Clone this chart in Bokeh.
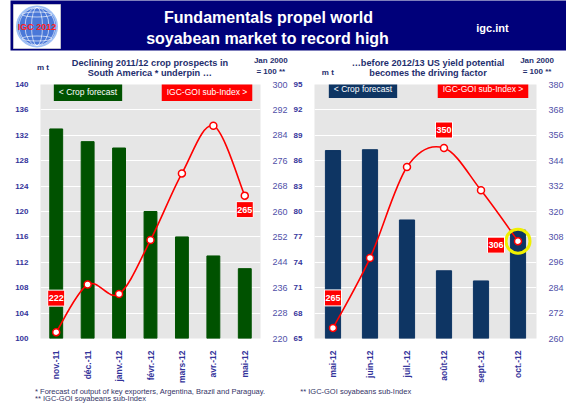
import math
from bokeh.plotting import figure
from bokeh.models import Range1d, LinearAxis, FixedTicker, Label
from bokeh.layouts import column, row
from bokeh.embed import file_html
from bokeh.resources import INLINE

# ---------------- data ----------------
left_months = ["nov.-11", "déc.-11", "janv.-12", "févr.-12", "mars-12", "avr.-12", "mai-12"]
left_crop = [133, 131, 130, 120, 116, 113, 111]
left_index = [222, 237, 234, 251, 272, 287, 265]
left_crop_ticks = [100, 104, 108, 112, 116, 120, 124, 128, 132, 136, 140]
left_index_ticks = [220, 228, 236, 244, 252, 260, 268, 276, 284, 292, 300]
left_labelled = [0, 6]

right_months = ["mai-12", "juin-12", "juil.-12", "août-12", "sept.-12", "oct.-12"]
right_crop = [87.2, 87.3, 79.0, 73.0, 71.8, 77.8]
right_index = [265, 298, 341, 350, 330, 306]
right_crop_ticks = [65, 68, 71, 74, 77, 80, 83, 86, 89, 92, 95]
right_index_ticks = [260, 272, 284, 296, 308, 320, 332, 344, 356, 368, 380]
right_labelled = [0, 3, 5]
right_highlight = 5

FONT = "Liberation Sans"
NAVY_TXT = "#1f2f6e"
AX_COL = "#33339a"
AX2_COL = "#5050a8"
FOOT_COL = "#333366"


def smooth_segments(xs, ys):
    n = len(xs)
    seg = dict(x0=[], y0=[], x1=[], y1=[], cx0=[], cy0=[], cx1=[], cy1=[])
    for i in range(n - 1):
        i0 = max(i - 1, 0)
        i3 = min(i + 2, n - 1)
        seg["x0"].append(xs[i]); seg["y0"].append(ys[i])
        seg["x1"].append(xs[i + 1]); seg["y1"].append(ys[i + 1])
        seg["cx0"].append(xs[i] + (xs[i + 1] - xs[i0]) / 6)
        seg["cy0"].append(ys[i] + (ys[i + 1] - ys[i0]) / 6)
        seg["cx1"].append(xs[i + 1] - (xs[i3] - xs[i]) / 6)
        seg["cy1"].append(ys[i + 1] - (ys[i3] - ys[i]) / 6)
    return seg


def make_chart(months, crop, idx, crop_ticks, idx_ticks, bar_color, W, H, bl, br, bt, bb):
    n = len(months)
    xs = list(range(n))
    p = figure(width=W, height=H, x_range=Range1d(-0.5, n - 0.5),
               y_range=Range1d(crop_ticks[0], crop_ticks[-1]),
               output_backend="svg", toolbar_location=None,
               min_border_left=bl, min_border_right=br,
               min_border_top=bt, min_border_bottom=bb)
    p.extra_y_ranges = {"idx": Range1d(idx_ticks[0], idx_ticks[-1])}
    p.background_fill_color = "#e6e6e6"
    p.border_fill_color = "white"
    p.outline_line_color = None
    p.xgrid.visible = False
    p.ygrid.grid_line_color = "white"
    p.ygrid.grid_line_width = 1

    p.xaxis.ticker = FixedTicker(ticks=xs)
    p.xaxis.major_label_overrides = {i: m for i, m in enumerate(months)}
    p.xaxis.major_label_orientation = math.pi / 2
    p.xaxis.major_label_text_font_size = "8.5px"
    p.xaxis.major_label_text_font_style = "bold"
    p.xaxis.major_label_text_color = AX_COL
    p.xaxis.major_label_text_font = FONT
    p.xaxis.major_label_standoff = 6

    p.yaxis.ticker = FixedTicker(ticks=crop_ticks)
    p.yaxis.major_label_text_font_size = "8px"
    p.yaxis.major_label_text_font_style = "bold"
    p.yaxis.major_label_text_color = AX_COL
    p.yaxis.major_label_text_font = FONT
    p.yaxis.major_label_standoff = 6

    ax2 = LinearAxis(y_range_name="idx", ticker=FixedTicker(ticks=idx_ticks))
    ax2.major_label_text_font_size = "9px"
    ax2.major_label_text_color = AX2_COL
    ax2.major_label_text_font = FONT
    ax2.major_label_standoff = 6
    p.add_layout(ax2, "right")

    for ax in [p.xaxis[0], p.yaxis[0], ax2]:
        ax.axis_line_color = None
        ax.major_tick_line_color = None
        ax.minor_tick_line_color = None

    p.vbar(x=xs, top=crop, bottom=crop_ticks[0], width=0.41,
           fill_color=bar_color, line_color=bar_color)
    seg = smooth_segments(xs, idx)
    p.bezier(line_color="#ff0000", line_width=1.6, y_range_name="idx", **seg)
    p.scatter(xs, idx, y_range_name="idx", size=7, fill_color="white",
              line_color="#ff0000", line_width=1.5)
    return p


def legend_box(p, fh, dx, dy, text, bg):
    # dx: px from frame left, dy: px from frame top (screen units are frame-relative)
    p.add_layout(Label(x=dx, y=fh - dy, x_units="screen", y_units="screen",
                       text=text, text_font=FONT, text_font_size="8.5px",
                       text_color="white", text_align="center", text_baseline="middle",
                       background_fill_color=bg, padding=(5, 4)))


def value_label(p, xi, yv, dx, dy):
    p.add_layout(Label(x=xi, y=yv, y_range_name="idx", x_offset=dx, y_offset=dy,
                       text=str(yv), text_font=FONT, text_font_size="9px", text_font_style="bold",
                       text_color="white", text_align="center", text_baseline="middle",
                       background_fill_color="#ff0000", border_line_color="white",
                       border_line_width=1, padding=(1, 5)))


def text_fig(w, h):
    f = figure(width=w, height=h, x_range=Range1d(0, w), y_range=Range1d(0, h),
               output_backend="svg", toolbar_location=None, x_axis_type=None, y_axis_type=None,
               min_border_left=0, min_border_right=0, min_border_top=0, min_border_bottom=0)
    f.background_fill_color = "white"
    f.border_fill_color = "white"
    f.outline_line_color = None
    f.grid.visible = False
    return f


def txt(f, x, y, text, size="8px", style="bold", color=NAVY_TXT, align="center"):
    f.add_layout(Label(x=x, y=y, text=text, text_font=FONT, text_font_size=size,
                       text_font_style=style, text_color=color, text_align=align,
                       text_baseline="middle"))


# ---------------- header ----------------
hdr = figure(width=566, height=52, x_range=Range1d(0, 556), y_range=Range1d(0, 50),
             output_backend="svg", toolbar_location=None, x_axis_type=None, y_axis_type=None,
             min_border_left=10, min_border_right=0, min_border_top=0, min_border_bottom=2)
hdr.background_fill_color = "#00007a"
hdr.border_fill_color = "white"
hdr.outline_line_color = None
hdr.grid.visible = False
hdr.quad(left=3, right=50, bottom=2, top=46, fill_color="white", line_color="#c0c0d0")
hdr.circle(x=26.5, y=24, radius=20, fill_color="#4a78d8", line_color="#9fc0f5", line_width=2)
for w in [11, 24, 36]:
    hdr.ellipse(x=26.5, y=24, width=w, height=38, fill_color=None, line_color="white",
                line_width=0.8, line_alpha=0.8)
for yy, ww in [(12, 30), (36, 30)]:
    hdr.ellipse(x=26.5, y=yy, width=ww, height=5, fill_color=None, line_color="white",
                line_width=0.8, line_alpha=0.8)
hdr.add_layout(Label(x=26.5, y=24, text="IGC 2012", text_font=FONT, text_font_size="9px",
                     text_font_style="bold", text_color="#ff2020", text_align="center",
                     text_baseline="middle"))
hdr.add_layout(Label(x=258, y=33, text="Fundamentals propel world", text_font=FONT,
                     text_font_size="16px", text_font_style="bold", text_color="white",
                     text_align="center", text_baseline="middle"))
hdr.add_layout(Label(x=257, y=12, text="soyabean market to record high", text_font=FONT,
                     text_font_size="16px", text_font_style="bold", text_color="white",
                     text_align="center", text_baseline="middle"))
hdr.add_layout(Label(x=482, y=23, text="igc.int", text_font=FONT,
                     text_font_size="11px", text_font_style="bold", text_color="white",
                     text_align="center", text_baseline="middle"))

# ---------------- subtitle band ----------------
sub = text_fig(566, 28)
txt(sub, 142, 18, "Declining 2011/12 crop prospects in", size="9.2px")
txt(sub, 142, 8, "South America * underpin …", size="9.2px")
txt(sub, 33, 13, "m t")
txt(sub, 265, 20, "Jan 2000")
txt(sub, 265, 9, "= 100 **")
txt(sub, 425, 18, "…before 2012/13 US yield potential", size="9.2px")
txt(sub, 425, 8, "becomes the driving factor", size="9.2px")
txt(sub, 323, 8, "m t")
txt(sub, 536, 20, "Jan 2000")
txt(sub, 536, 9, "= 100 **")

# ---------------- left chart ----------------
LW, LH, LBL, LBR, LBT, LBB = 290, 306, 40, 30, 4, 40
LFH = LH - LBT - LBB
pl = make_chart(left_months, left_crop, left_index, left_crop_ticks, left_index_ticks,
                "#005200", LW, LH, LBL, LBR, LBT, LBB)
legend_box(pl, LFH, 47.5, 15.5, "< Crop forecast", "#005200")
legend_box(pl, LFH, 166.5, 15.5, "IGC-GOI sub-Index >", "#ff0000")
value_label(pl, left_labelled[0], left_index[left_labelled[0]], 0, 34)
value_label(pl, left_labelled[1], left_index[left_labelled[1]], 0, -14)

# ---------------- right chart ----------------
RW, RH, RBL, RBR, RBT, RBB = 276, 306, 18, 29, 4, 37
RFH = RH - RBT - RBB
pr = make_chart(right_months, right_crop, right_index, right_crop_ticks, right_index_ticks,
                "#0e3563", RW, RH, RBL, RBR, RBT, RBB)
legend_box(pr, RFH, 48.5, 15.5, "< Crop forecast", "#0e3563")
legend_box(pr, RFH, 168.5, 15.5, "IGC-GOI sub-Index >", "#ff0000")
value_label(pr, right_labelled[0], right_index[right_labelled[0]], 0, 30)
value_label(pr, right_labelled[1], right_index[right_labelled[1]], 0, 18)
value_label(pr, right_labelled[2], right_index[right_labelled[2]], -22, -4)
pr.scatter([right_highlight], [right_index[right_highlight]], y_range_name="idx", size=24,
           fill_color=None, line_color="#f0f000", line_width=3)

# ---------------- footnotes ----------------
foot = text_fig(566, 17)
txt(foot, 25, 12.5, "* Forecast of output of key exporters, Argentina, Brazil and Paraguay.",
    size="7.5px", style="normal", color=FOOT_COL, align="left")
txt(foot, 25, 5, "** IGC-GOI  soyabeans  sub-Index",
    size="7.5px", style="normal", color=FOOT_COL, align="left")
txt(foot, 295, 12.5, "** IGC-GOI  soyabeans  sub-Index",
    size="7.5px", style="normal", color=FOOT_COL, align="left")

layout = column(hdr, sub, row(pl, pr, spacing=0), foot, spacing=0)
open("out.html", "w").write(file_html(layout, INLINE))
